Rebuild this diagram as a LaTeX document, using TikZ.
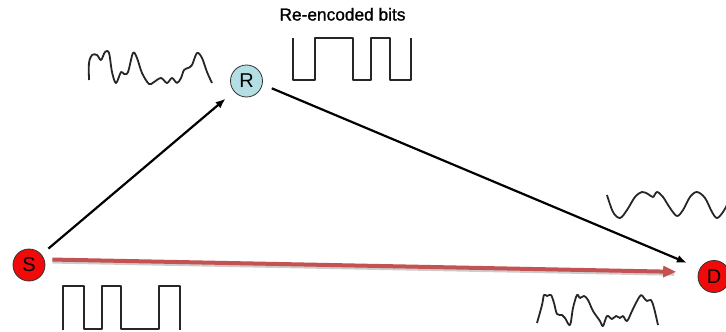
\documentclass[tikz,border=0pt]{standalone}
\usepackage{fontspec}
\setmainfont{Liberation Sans}
\newfontfamily\labelfont[FakeBold=1.2]{Liberation Sans}
\usetikzlibrary{arrows.meta}
\definecolor{nodered}{RGB}{240,10,10}
\definecolor{relayblue}{RGB}{178,222,228}
\definecolor{linkred}{RGB}{196,82,82}
\tikzset{
  station/.style={circle,draw=black!80,line width=0.8pt,minimum size=32pt,inner sep=0pt,font=\fontsize{20}{20}\selectfont},
  link/.style={line width=2.2pt,-{Latex[length=10pt,width=8pt]}},
  direct/.style={line width=4pt,draw=linkred,-{Triangle[length=13pt,width=11pt]}},
  sig/.style={line width=1.8pt,black!85,line join=round},
  wave/.style={sig,smooth,tension=0.55}
}
\begin{document}
\begin{tikzpicture}[x=1pt,y=-1pt]
\useasboundingbox (0,0) rectangle (726,332);
\clip (0,0) rectangle (726,332);
\node[station,fill=nodered] (S) at (29,265) {S};
\node[station,fill=relayblue] (R) at (246.5,81) {R};
\node[station,fill=nodered] (D) at (714,276.5) {D};
\node[anchor=base,font=\labelfont\fontsize{17.3}{17.3}\selectfont] (T) at (342.5,20.5) {Re-encoded bits};
% direct link with shadow
\draw[line width=4pt,black!20,shorten <=8pt,shorten >=24pt] ([yshift=-2pt]S.20) -- ([yshift=-2pt]D.165);
\draw[direct,shorten <=8pt,shorten >=22pt] (S.20) -- (D.165);
\draw[link,shorten <=9pt,shorten >=11pt] (S) -- (R);
\draw[link,shorten <=10pt,shorten >=14pt] (R.-12) -- (D.150);
% square waves
\draw[sig] (293,38) -- (293,80) -- (315,80) -- (315,38) -- (353,38) -- (353,80) -- (371,80) -- (371,38) -- (390,38) -- (390,80) -- (411,80) -- (411,38);
\draw[sig] (63,330) -- (63,286) -- (84,286) -- (84,329) -- (102,329) -- (102,286) -- (121,286) -- (121,329) -- (159,329) -- (159,286) -- (180,286) -- (180,330);
% noisy waves
\draw[wave] plot coordinates {(89,80) (89,63) (92,55) (97,55) (101,60) (105,52) (109,53) (112,72) (116,83) (121,72) (124,74) (128,72) (133,53) (137,58) (142,73) (149,84) (154,82) (161,78) (167,83) (172,78) (177,83) (181,78) (184,70) (188,68) (192,65) (197,53) (202,58) (207,72) (212,83)};
\draw[wave] plot coordinates {(607,195) (613,212) (620,218) (627,210) (635,197) (642,192) (648,194) (653,197) (657,192) (663,197) (670,208) (677,216) (683,210) (690,197) (697,192) (705,198) (712,212) (717,218) (723,212) (728,203)};
\draw[wave] plot coordinates {(537,323) (542,305) (544,295) (547,296) (551,295) (554,303) (557,314) (562,315) (565,318) (570,325) (573,308) (577,295) (580,298) (584,296) (588,300) (593,311) (600,321) (603,326) (607,316) (612,319) (616,316) (620,318) (623,316) (627,321) (632,311) (637,301) (641,295) (644,298) (647,301) (651,300) (654,308) (658,325)};
\end{tikzpicture}
\end{document}
